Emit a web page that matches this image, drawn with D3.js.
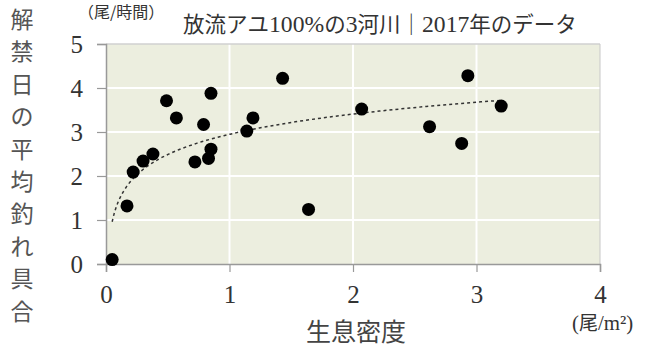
<!DOCTYPE html>
<html>
<head>
<meta charset="utf-8">
<script src="https://d3js.org/d3.v7.min.js"></script>
<style>
body { margin: 0; background: #fff; }
svg { display: block; }
</style>
</head>
<body>
<svg id="chart" width="651" height="347"></svg>
<script>
// 生息密度 (尾/m2) と 解禁日の平均釣れ具合 (尾/時間)
var density = [0.05, 0.17, 0.22, 0.30, 0.38, 0.49, 0.57, 0.72, 0.79, 0.83, 0.85, 0.85,
               1.14, 1.19, 1.43, 1.64, 2.07, 2.62, 2.88, 2.93, 3.20];
var catchRate = [0.10, 1.32, 2.09, 2.34, 2.50, 3.71, 3.32, 2.32, 3.17, 2.40, 2.61, 3.88,
                 3.02, 3.32, 4.22, 1.24, 3.52, 3.12, 2.74, 4.28, 3.59];
var xTicks = [0, 1, 2, 3, 4];
var yTicks = [0, 1, 2, 3, 4, 5];

var titleUnit = "（尾/時間）";
// [text, is latin]
var titleParts = [["放流アユ", 0], ["100%", 1], ["の", 0], ["3", 1], ["河川｜", 0], ["2017", 1], ["年のデータ", 0]];
var yTitle = "解禁日の平均釣れ具合";
var xTitle = "生息密度";
var unitParts = [["(", 1], ["尾", 0], ["/m²)", 1]];

var SERIF = "Liberation Serif";
var GOTHIC = "Noto Sans CJK JP";

var svg = d3.select("#chart");
var pLeft = 106, pRight = 600, pTop = 44, pBottom = 264;

var xScale = d3.scaleLinear().domain([0, 4]).range([pLeft, pRight]);
var yScale = d3.scaleLinear().domain([0, 5]).range([pBottom, pTop]);

// plot background
svg.append("rect")
   .attr("x", pLeft).attr("y", pTop)
   .attr("width", pRight - pLeft).attr("height", pBottom - pTop)
   .attr("fill", "#eceedf");

// grid
svg.append("g").selectAll("line")
   .data(yTicks.slice(1, -1))
   .enter().append("line")
   .attr("x1", pLeft).attr("x2", pRight)
   .attr("y1", function(d) { return yScale(d); })
   .attr("y2", function(d) { return yScale(d); })
   .attr("stroke", "#fff").attr("stroke-width", 2);

svg.append("g").selectAll("line")
   .data(xTicks.slice(1, -1))
   .enter().append("line")
   .attr("y1", pTop).attr("y2", pBottom)
   .attr("x1", function(d) { return xScale(d); })
   .attr("x2", function(d) { return xScale(d); })
   .attr("stroke", "#fff").attr("stroke-width", 2);

// frame top / right
svg.append("line").attr("x1", pLeft).attr("x2", pRight).attr("y1", pTop).attr("y2", pTop)
   .attr("stroke", "#d0d0d0").attr("stroke-width", 1.5);
svg.append("line").attr("x1", pRight).attr("x2", pRight).attr("y1", pTop).attr("y2", pBottom)
   .attr("stroke", "#c8c8c8").attr("stroke-width", 1);

// axes
var xAxis = svg.append("g")
   .attr("transform", "translate(0," + pBottom + ")")
   .call(d3.axisBottom(xScale).tickValues(xTicks).tickSize(8).tickPadding(12).tickFormat(d3.format("d")));
var yAxis = svg.append("g")
   .attr("transform", "translate(" + pLeft + ",0)")
   .call(d3.axisLeft(yScale).tickValues(yTicks).tickSize(9).tickPadding(14).tickFormat(d3.format("d")));

[xAxis, yAxis].forEach(function(ax) {
	ax.attr("font-family", SERIF + ", serif").attr("font-size", 25);
	ax.select(".domain").attr("stroke", "#999").attr("stroke-width", 1.5);
	ax.selectAll(".tick line").attr("stroke", "#999").attr("stroke-width", 1.2);
	ax.selectAll(".tick text").attr("fill", "#333");
});
yAxis.selectAll(".tick text").attr("dy", "0.34em");
xAxis.selectAll(".tick text").attr("dy", "0.75em");

// log trend line (least squares on ln x)
var lx = density.map(function(d) { return Math.log(d); });
var mx = d3.mean(lx), my = d3.mean(catchRate);
var b = d3.sum(lx, function(v, i) { return (v - mx) * (catchRate[i] - my); }) /
        d3.sum(lx, function(v) { return (v - mx) * (v - mx); });
var a = my - b * mx;
var lo = d3.min(density), hi = d3.max(density);
var xs = d3.range(80).map(function(i) { return lo * Math.pow(hi / lo, i / 79); });
svg.append("path")
   .datum(xs)
   .attr("fill", "none")
   .attr("stroke", "#333")
   .attr("stroke-width", 1.5)
   .attr("stroke-dasharray", "3,3")
   .attr("d", d3.line()
      .x(function(d) { return xScale(d); })
      .y(function(d) { return yScale(a + b * Math.log(d)); }));

// points
svg.append("g").selectAll("circle")
   .data(density)
   .enter().append("circle")
   .attr("cx", function(d) { return xScale(d); })
   .attr("cy", function(d, i) { return yScale(catchRate[i]); })
   .attr("r", 6.5)
   .attr("fill", "#000");

// titles
svg.append("text")
   .attr("x", 78).attr("y", 18)
   .attr("font-family", GOTHIC).attr("font-size", 16).attr("fill", "#333")
   .text(titleUnit);

function mixedText(parts, x, y, size) {
	var t = svg.append("text")
	   .attr("x", x).attr("y", y)
	   .attr("font-size", size).attr("fill", "#333");
	t.selectAll("tspan")
	 .data(parts)
	 .enter().append("tspan")
	 .attr("font-family", function(d) { return d[1] ? SERIF + ", serif" : GOTHIC; })
	 .attr("font-size", function(d) { return d[1] ? size * 1.1 : size; })
	 .text(function(d) { return d[0]; });
	return t;
}
mixedText(titleParts, 183, 32, 21.5);

var yt = svg.append("text")
   .attr("font-family", GOTHIC).attr("font-size", 23).attr("fill", "#555")
   .attr("text-anchor", "middle");
yt.selectAll("tspan")
  .data(yTitle.split(""))
  .enter().append("tspan")
  .attr("x", 22)
  .attr("y", function(d, i) { return 28 + i * 32.4; })
  .text(function(d) { return d; });

svg.append("text")
   .attr("x", 356).attr("y", 341)
   .attr("text-anchor", "middle")
   .attr("font-family", GOTHIC).attr("font-size", 25).attr("fill", "#444")
   .text(xTitle);

mixedText(unitParts, 572, 330, 19);
</script>
</body>
</html>
